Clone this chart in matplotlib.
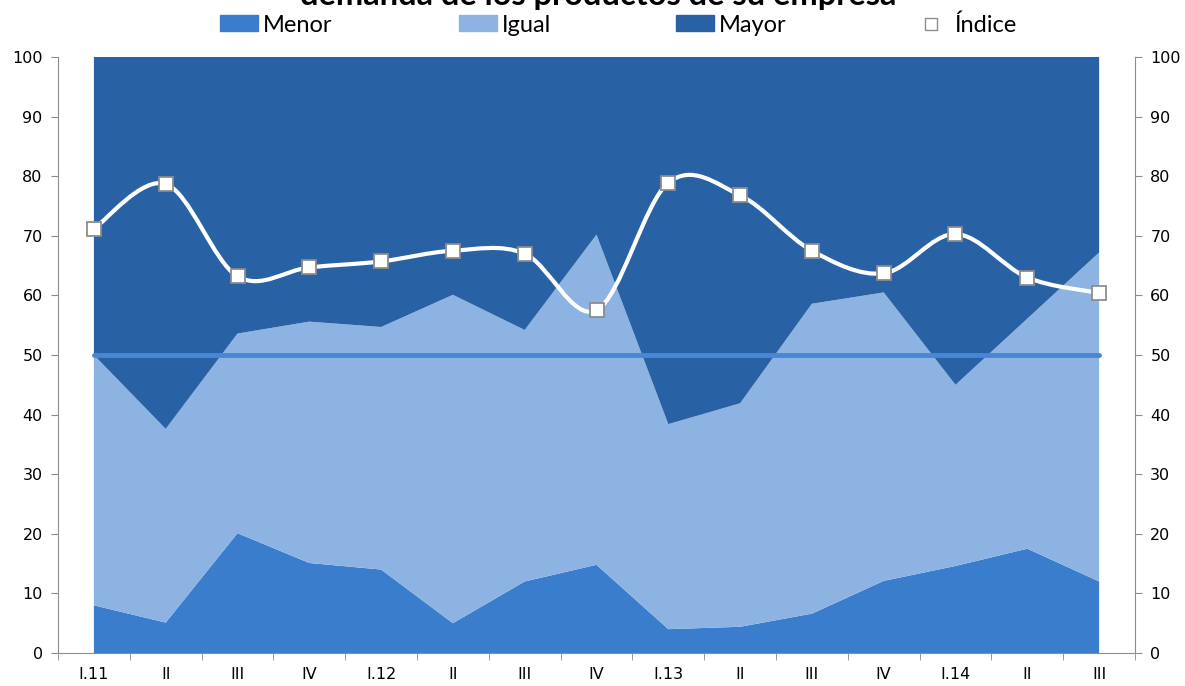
import matplotlib
matplotlib.use("Agg")
import matplotlib.pyplot as plt
from matplotlib.path import Path
from matplotlib.patches import PathPatch, Patch
from matplotlib.lines import Line2D
import numpy as np

# datos
trimestres = ["I.11", "II", "III", "IV", "I.12", "II", "III", "IV",
              "I.13", "II", "III", "IV", "I.14", "II", "III"]
menor = [8.0, 5.1, 20.1, 15.1, 14.0, 5.0, 12.0, 14.8, 4.0, 4.4, 6.6, 12.1, 14.6, 17.5, 12.0]
menor_igual = [50.0, 37.6, 53.6, 55.6, 54.7, 60.1, 54.2, 70.2, 38.4, 41.9, 58.6, 60.5, 45.0, 56.1, 67.2]
indice = [71.2, 78.7, 63.2, 64.7, 65.7, 67.5, 67.0, 57.5, 78.9, 76.8, 67.5, 63.7, 70.3, 63.0, 60.4]
referencia = [50] * len(trimestres)

igual = [a - b for a, b in zip(menor_igual, menor)]
mayor = [100 - a for a in menor_igual]

c_menor = "#3A7DCC"
c_igual = "#8DB3E2"
c_mayor = "#2862A5"

fig = plt.figure(figsize=(11.85, 6.86), dpi=100)
ax = fig.add_axes([58 / 1185, 33 / 686, (1135 - 58) / 1185, (653 - 57) / 686])

x = np.arange(len(trimestres))
ax.stackplot(x, menor, igual, mayor, colors=[c_menor, c_igual, c_mayor], lw=0)
ax.plot(x, referencia, color="#4A86D6", lw=3.5, solid_capstyle="round", zorder=3)

# linea suavizada (bezier tipo excel) para el indice
pts = np.column_stack([x, indice])
verts = [tuple(pts[0])]
codes = [Path.MOVETO]
n = len(pts)
for i in range(n - 1):
    p0 = pts[max(i - 1, 0)]
    p1 = pts[i]
    p2 = pts[i + 1]
    p3 = pts[min(i + 2, n - 1)]
    c1 = p1 + (p2 - p0) / 6
    c2 = p2 - (p3 - p1) / 6
    verts += [tuple(c1), tuple(c2), tuple(p2)]
    codes += [Path.CURVE4] * 3
ax.add_patch(PathPatch(Path(verts, codes), fill=False, ec="white", lw=3, zorder=4))
ax.plot(x, indice, ls="none", marker="s", ms=10, mfc="white", mec="#8C8C8C", mew=1.3, zorder=5)

ax.set_xlim(-0.5, len(trimestres) - 0.5)
ax.set_ylim(0, 100)
ax.set_yticks(range(0, 101, 10))
ax.set_xticks(x)
ax.set_xticklabels(trimestres, family="Liberation Sans Narrow", fontsize=11.5)
ax.set_xticks(np.arange(-0.5, len(trimestres), 1), minor=True)
ax.tick_params(axis="x", which="major", length=0, pad=10)
ax.tick_params(axis="x", which="minor", length=5, color="#8C8C8C")
ax.tick_params(axis="y", length=5, color="#8C8C8C", labelsize=11.5, pad=6,
               right=True, labelright=True)
for sp in ["left", "right", "bottom"]:
    ax.spines[sp].set_color("#8C8C8C")
ax.spines["top"].set_visible(False)

# titulo (cortado arriba en el original)
fig.text(0.505, 1 - 5 / 686, "demanda de los productos de su empresa", ha="center",
         va="baseline", fontsize=23.5, fontweight="bold", family="Lato")

# leyenda
entradas = [
    (Patch(color=c_menor), "Menor", 220),
    (Patch(color=c_igual), "Igual", 459),
    (Patch(color=c_mayor), "Mayor", 676),
    (Line2D([], [], ls="none", marker="s", ms=8.5, mfc="white", mec="#8C8C8C"), "Índice", 912),
]
for h, lab, px in entradas:
    lg = fig.legend([h], [lab], loc="center left", bbox_to_anchor=(px / 1185, 1 - 25 / 686),
                    frameon=False, prop={"family": "Lato", "size": 17},
                    handlelength=1.6, handleheight=0.64, handletextpad=0.21,
                    borderpad=0, borderaxespad=0)

fig.savefig("out.png", dpi=100)
